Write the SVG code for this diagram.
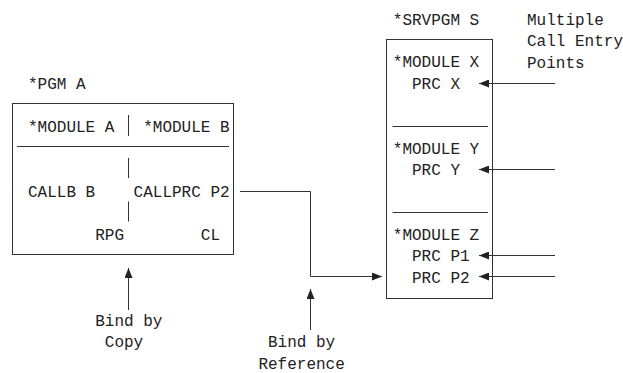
<svg xmlns="http://www.w3.org/2000/svg" width="623" height="373" viewBox="0 0 623 373">
  <style>
    text { font-family: "Liberation Mono", "DejaVu Sans Mono", monospace; font-size: 16px; fill: #222; }
    .ln { fill: none; stroke: #333; stroke-width: 1; }
  </style>
  <defs>
    <marker id="ah" viewBox="0 0 10 8" refX="10" refY="4" markerWidth="10" markerHeight="8" markerUnits="userSpaceOnUse" orient="auto">
      <path d="M0,0 L10,4 L0,8 Z" fill="#222"/>
    </marker>
  </defs>
  <rect width="623" height="373" fill="#fff"/>

  <g id="pgmA">
    <text x="28" y="88.5">*PGM A</text>
    <rect class="ln" x="12.5" y="103.5" width="221" height="151"/>
    <text x="28" y="132">*MODULE A</text>
    <text x="143.2" y="132">*MODULE B</text>
    <line class="ln" x1="128.5" y1="115" x2="128.5" y2="136"/>
    <line class="ln" x1="17" y1="146.5" x2="229" y2="146.5"/>
    <line class="ln" x1="128.5" y1="158" x2="128.5" y2="178"/>
    <line class="ln" x1="128.5" y1="201.5" x2="128.5" y2="221.5"/>
    <text x="28" y="197">CALLB B</text>
    <text x="133.6" y="197">CALLPRC P2</text>
    <text x="95.2" y="240">RPG</text>
    <text x="200.8" y="240">CL</text>
  </g>

  <g id="srvpgmS">
    <text x="392.8" y="24.5">*SRVPGM S</text>
    <rect class="ln" x="386.5" y="39.5" width="106" height="259"/>
    <text x="392.8" y="67">*MODULE X</text>
    <text x="412" y="89">PRC X</text>
    <line class="ln" x1="392.5" y1="126.5" x2="488" y2="126.5"/>
    <text x="392.8" y="153.5">*MODULE Y</text>
    <text x="412" y="175">PRC Y</text>
    <line class="ln" x1="392.5" y1="212.5" x2="488" y2="212.5"/>
    <text x="392.8" y="240">*MODULE Z</text>
    <text x="412" y="261">PRC P1</text>
    <text x="412" y="282.5">PRC P2</text>
  </g>

  <g id="entryLabel">
    <text x="527" y="24.5">Multiple</text>
    <text x="527" y="46">Call Entry</text>
    <text x="527" y="67.5">Points</text>
  </g>

  <g id="bindCopy">
    <text x="95.2" y="326">Bind by</text>
    <text x="104.8" y="347">Copy</text>
  </g>

  <g id="bindRef">
    <text x="268" y="347">Bind by</text>
    <text x="258.4" y="368.5">Reference</text>
  </g>

  <g id="connectors">
    <line class="ln" x1="555" y1="83.5" x2="479" y2="83.5" marker-end="url(#ah)"/>
    <line class="ln" x1="555" y1="169.5" x2="479" y2="169.5" marker-end="url(#ah)"/>
    <line class="ln" x1="555" y1="255.5" x2="479" y2="255.5" marker-end="url(#ah)"/>
    <line class="ln" x1="555" y1="276.5" x2="479" y2="276.5" marker-end="url(#ah)"/>
    <polyline class="ln" points="240,191.5 310.5,191.5 310.5,276.5 382,276.5" marker-end="url(#ah)"/>
    <line class="ln" x1="128.5" y1="310" x2="128.5" y2="268" marker-end="url(#ah)"/>
    <line class="ln" x1="310.5" y1="330" x2="310.5" y2="289" marker-end="url(#ah)"/>
  </g>
</svg>
